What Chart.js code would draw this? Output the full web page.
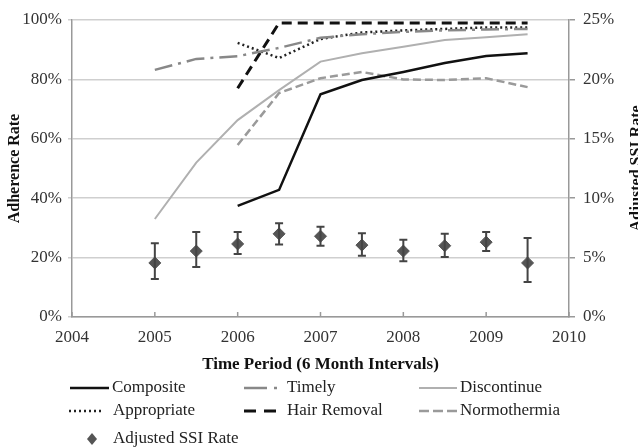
<!DOCTYPE html>
<html>
<head>
<meta charset="utf-8">
<script src="https://cdn.jsdelivr.net/npm/chart.js@4"></script>
<style>
  html, body { margin: 0; padding: 0; background: #fff; overflow: hidden; }
  #wrap { position: relative; width: 638px; height: 447px; }
</style>
</head>
<body>
<div id="wrap"><canvas id="chart" width="638" height="447"></canvas></div>
<script>
const periods = [2005, 2005.5, 2006, 2006.5, 2007, 2007.5, 2008, 2008.5, 2009, 2009.5];
const composite = [null, null, 37.4, 42.8, 75, 79.8, 82.5, 85.5, 87.9, 88.8];
const timely = [83.2, 86.9, 87.8, 90.6, 94, 95.2, 96, 96.5, 96.8, 97];
const discontinue = [33, 52, 66.3, 76.4, 86, 88.8, 91, 93.3, 94.2, 95.2];
const appropriate = [null, null, 92.3, 87.2, 93.6, 95.8, 96.5, 97, 97.5, 97.5];
const hairRemoval = [null, null, 77, 99, 99, 99, 99, 99, 99, 99];
const normothermia = [null, null, 57.9, 75.4, 80.4, 82.5, 80, 79.8, 80.4, 77.4];
const ssiRate = [4.55, 5.55, 6.15, 7.0, 6.8, 6.05, 5.55, 6.0, 6.3, 4.55];
const ssiLow = [3.2, 4.2, 5.3, 6.1, 6.0, 5.15, 4.7, 5.05, 5.55, 2.95];
const ssiHigh = [6.2, 7.15, 7.15, 7.9, 7.6, 7.05, 6.5, 7.0, 7.15, 6.65];
const yearTicks = [2004, 2005, 2006, 2007, 2008, 2009, 2010];

const serif = '"Liberation Serif", "DejaVu Serif", serif';

function pts(vals) {
    return periods.map((x, i) => ({ x: x, y: vals[i] }));
}

function lineSet(label, vals, color, width, dash) {
    return {
        label: label,
        data: pts(vals),
        borderColor: color,
        backgroundColor: color,
        borderWidth: width,
        borderDash: dash,
        pointRadius: 0,
        tension: 0,
        spanGaps: false,
        yAxisID: 'y'
    };
}

/* error bars, inner x ticks, right title, legend */
const extras = {
    id: 'extras',
    afterDatasetsDraw(chart) {
        const ctx = chart.ctx;
        const x = chart.scales.x;
        const y2 = chart.scales.y2;
        const area = chart.chartArea;
        ctx.save();
        // error bars
        ctx.strokeStyle = '#444';
        ctx.lineWidth = 2;
        for (let i = 0; i < periods.length; i++) {
            const px = x.getPixelForValue(periods[i]);
            const top = y2.getPixelForValue(ssiHigh[i]);
            const bot = y2.getPixelForValue(ssiLow[i]);
            ctx.beginPath();
            ctx.moveTo(px, top); ctx.lineTo(px, bot);
            ctx.moveTo(px - 4, top); ctx.lineTo(px + 4, top);
            ctx.moveTo(px - 4, bot); ctx.lineTo(px + 4, bot);
            ctx.stroke();
        }
        // inward tick marks on x axis
        ctx.strokeStyle = '#999';
        ctx.lineWidth = 1.5;
        yearTicks.forEach(v => {
            const px = x.getPixelForValue(v);
            ctx.beginPath();
            ctx.moveTo(px, area.bottom); ctx.lineTo(px, area.bottom - 5);
            ctx.stroke();
        });
        // right axis title (reads bottom to top, cut by the edge)
        ctx.fillStyle = '#111';
        ctx.font = 'bold 16px ' + serif;
        ctx.textAlign = 'center';
        ctx.textBaseline = 'middle';
        ctx.translate(637, (area.top + area.bottom) / 2);
        ctx.rotate(-Math.PI / 2);
        ctx.fillText('Adjusted SSI Rate', 0, 0);
        ctx.restore();

        // legend
        ctx.save();
        ctx.font = '17px ' + serif;
        ctx.fillStyle = '#222';
        ctx.textBaseline = 'middle';
        ctx.textAlign = 'left';
        const items = [
            { ds: 0, x1: 70, x2: 109, tx: 112, y: 388 },
            { ds: 1, x1: 244, x2: 278, tx: 287, y: 388, dash: [23, 7, 3, 8] },
            { ds: 2, x1: 419, x2: 457, tx: 460, y: 388 },
            { ds: 3, x1: 69, x2: 104, tx: 113, y: 411 },
            { ds: 4, x1: 244, x2: 276, tx: 287, y: 411, dash: [12, 8] },
            { ds: 5, x1: 419, x2: 457, tx: 460, y: 411, dash: [10, 4] }
        ];
        items.forEach(it => {
            const d = chart.data.datasets[it.ds];
            ctx.save();
            ctx.strokeStyle = d.borderColor;
            ctx.lineWidth = d.borderWidth;
            ctx.setLineDash(it.dash || d.borderDash || []);
            ctx.beginPath();
            ctx.moveTo(it.x1, it.y); ctx.lineTo(it.x2, it.y);
            ctx.stroke();
            ctx.restore();
            ctx.fillText(d.label, it.tx, it.y);
        });
        // diamond
        ctx.fillStyle = '#555';
        ctx.beginPath();
        ctx.moveTo(92, 433); ctx.lineTo(97, 439); ctx.lineTo(92, 445); ctx.lineTo(87, 439);
        ctx.closePath();
        ctx.fill();
        ctx.fillStyle = '#222';
        ctx.fillText(chart.data.datasets[6].label, 113, 439);
        ctx.restore();
    }
};

const ctx = document.getElementById('chart').getContext('2d');
const myChart = new Chart(ctx, {
    type: 'line',
    data: {
        datasets: [
            lineSet('Composite', composite, '#111', 2.5, []),
            lineSet('Timely', timely, '#888', 2.5, [18, 6, 3, 6]),
            lineSet('Discontinue', discontinue, '#b0b0b0', 2, []),
            lineSet('Appropriate', appropriate, '#222', 2.5, [2, 3]),
            lineSet('Hair Removal', hairRemoval, '#111', 3, [10, 6]),
            lineSet('Normothermia', normothermia, '#9a9a9a', 2.5, [8, 4]),
            {
                label: 'Adjusted SSI Rate',
                data: pts(ssiRate),
                yAxisID: 'y2',
                showLine: false,
                pointStyle: 'rectRot',
                pointRadius: 6,
                pointBackgroundColor: '#555',
                pointBorderColor: '#555',
                borderColor: '#555',
                backgroundColor: '#555'
            }
        ]
    },
    options: {
        responsive: false,
        animation: false,
        layout: { padding: { top: 20, bottom: 70, left: 0, right: 0 } },
        scales: {
            x: {
                type: 'linear',
                min: 2004,
                max: 2010,
                ticks: {
                    stepSize: 1,
                    padding: 10,
                    color: '#333',
                    font: { family: serif, size: 17 },
                    callback: v => String(v)
                },
                grid: { display: false, drawTicks: false },
                border: { color: '#999', width: 1.5 },
                title: {
                    display: true,
                    text: 'Time Period (6 Month Intervals)',
                    color: '#111',
                    font: { family: serif, size: 17, weight: 'bold' },
                    padding: { top: 0, bottom: 2 }
                },
                afterFit: s => { s.height = 60; }
            },
            y: {
                min: 0,
                max: 100,
                ticks: {
                    stepSize: 20,
                    padding: 6,
                    color: '#333',
                    font: { family: serif, size: 17 },
                    callback: v => v + '%'
                },
                grid: { color: '#cfcfcf', lineWidth: 1.5, tickLength: 4 },
                border: { color: '#999', width: 1.5 },
                title: {
                    display: true,
                    text: 'Adherence Rate',
                    color: '#111',
                    font: { family: serif, size: 16, weight: 'bold' },
                    padding: { top: 5, bottom: 0 }
                },
                afterFit: s => { s.width = 72; }
            },
            y2: {
                position: 'right',
                min: 0,
                max: 25,
                ticks: {
                    stepSize: 5,
                    padding: 8,
                    color: '#333',
                    font: { family: serif, size: 17 },
                    callback: v => v + '%'
                },
                grid: { drawOnChartArea: false, color: '#999', lineWidth: 1.5, tickLength: 6 },
                border: { color: '#999', width: 1.5 },
                afterFit: s => { s.width = 69; }
            }
        },
        plugins: {
            legend: { display: false },
            tooltip: { enabled: false }
        }
    },
    plugins: [extras]
});
</script>
</body>
</html>
